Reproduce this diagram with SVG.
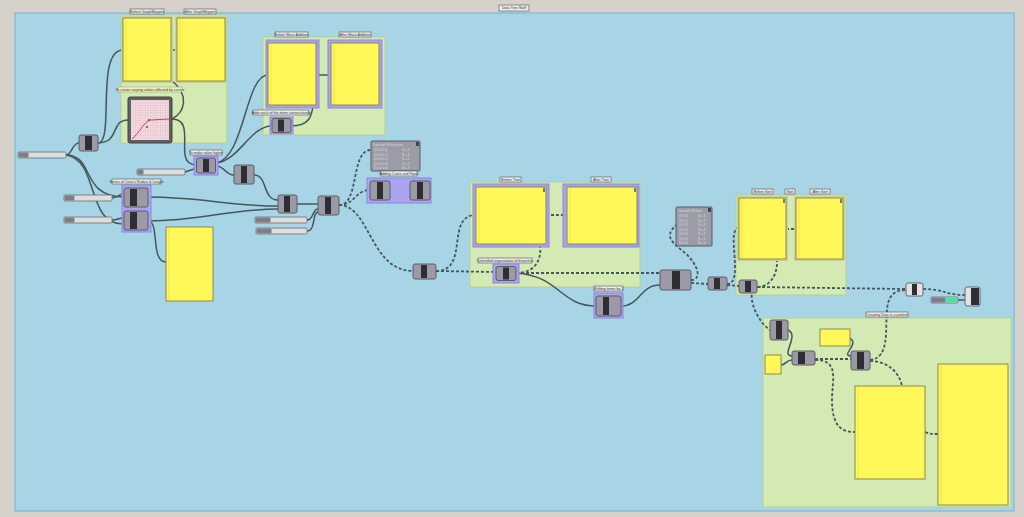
<svg xmlns="http://www.w3.org/2000/svg" width="1024" height="517" viewBox="0 0 1024 517">
<defs>
<style>
.bg{fill:#d6d2cb}
.blue{fill:#a7d5e6;stroke:#8cbdd0;stroke-width:1.5}
.grp{fill:#d4eab3;stroke:#b7cf98;stroke-width:1}
.pur{fill:#a9a3f0;stroke:#8d86de;stroke-width:1}
.pan{fill:#fff858;stroke:#8c8a4e;stroke-width:1}
.pl{stroke:#d8d040;stroke-width:0.5}
.cmp{fill:#9b9aa6;stroke:#5c5c66;stroke-width:1}
.bar{fill:#2e2e33}
.sl{fill:#dedede;stroke:#6c6c72;stroke-width:0.8}
.slh{fill:#7d7d88}
.lb{fill:#ececec;stroke:#555;stroke-width:0.6}
.lt{font-family:"Liberation Sans",Arial,sans-serif;font-size:3.6px;fill:#333;text-anchor:middle}
.dt{font-family:"Liberation Sans",Arial,sans-serif;font-size:3px;fill:#ddd}
.w{fill:none;stroke:#46565c;stroke-width:1.5}
.d{fill:none;stroke:#46565c;stroke-width:1.8;stroke-dasharray:3 2}
.dat{fill:#9c9ba8;stroke:#5a5a64;stroke-width:1}
</style>
<pattern id="grid" width="2.5" height="2.5" patternUnits="userSpaceOnUse">
<rect width="2.5" height="2.5" fill="#f3dde3"/>
<path d="M0 0V2.5M0 0H2.5" stroke="#d89aa8" stroke-width="0.4"/>
</pattern>
</defs>
<rect class="bg" x="0" y="0" width="1024" height="517"/>
<g id="canvas">
<rect class="blue" x="15" y="13" width="999" height="498"/>
<rect class="lb" x="499" y="5" width="30" height="6"/>
<text class="lt" x="514" y="9.3">Data Tree Stuff</text>
</g>
<g id="groups">
<rect class="grp" x="121" y="15" width="106" height="128"/>
<rect class="grp" x="263" y="37" width="122" height="98"/>
<rect class="grp" x="470" y="182" width="170" height="105"/>
<rect class="grp" x="736" y="195" width="110" height="100"/>
<rect class="grp" x="763" y="318" width="248" height="189"/>
</g>
<g id="connectors">
<path class="w" d="M66 155 C72 155,72 143,79 143"/>
<path class="w" d="M66 155 C95 155,80 197,124 197"/>
<path class="w" d="M66 155 C100 160,85 225,124 224"/>
<path class="w" d="M112 198 C118 198,118 194,124 194"/>
<path class="w" d="M112 220 C118 220,118 218,124 218"/>
<path class="w" d="M98 143 C120 143,110 120,128 120"/>
<path class="w" d="M98 143 C115 143,95 50,123 50"/>
<path class="w" d="M171 50 L177 50"/>
<path class="w" d="M171 80 C190 95,185 112,172 119"/>
<path class="w" d="M172 119 C190 119,183 140,185 155 C186 162,190 165,197 165"/>
<path class="w" d="M185 172 L197 168"/>
<path class="w" d="M216 163 C240 160,250 126,272 126"/>
<path class="w" d="M216 163 C245 158,245 75,268 75"/>
<path class="w" d="M216 166 C225 166,225 175,234 175"/>
<path class="w" d="M316 75 L331 75"/>
<path class="w" d="M291 126 C310 126,312 115,313 105"/>
<path class="w" d="M254 175 C268 175,262 200,278 200"/>
<path class="w" d="M148 197 C200 197,230 206,278 206"/>
<path class="w" d="M148 221 C200 221,230 209,278 209"/>
<path class="w" d="M148 221 C160 221,150 262,166 262"/>
<path class="w" d="M297 204 L318 204"/>
<path class="w" d="M307 220 C314 220,312 209,318 209"/>
<path class="w" d="M307 231 C316 231,312 212,318 212"/>
<path class="d" d="M339 205 C360 205,350 150,371 150"/>
<path class="d" d="M339 205 C355 205,355 190,370 190"/>
<path class="d" d="M390 191 L410 191"/>
<path class="d" d="M339 205 C370 205,370 271,413 271"/>
<path class="d" d="M436 271 C470 271,445 215,476 215"/>
<path class="d" d="M436 271 L496 272"/>
<path class="d" d="M546 215 C556 215,556 215,567 215"/>
<path class="d" d="M516 273 C535 273,542 260,540 245"/>
<path class="d" d="M516 273 L660 273"/>
<path class="w" d="M516 273 C560 276,560 306,596 306"/>
<path class="w" d="M621 306 C640 306,640 285,660 285"/>
<path class="d" d="M691 280 C700 280,700 270,690 258 C680 246,660 240,676 225"/>
<path class="d" d="M691 283 L708 284"/>
<path class="d" d="M727 284 C745 284,725 228,739 228"/>
<path class="d" d="M727 285 L739 286"/>
<path class="d" d="M786 229 L796 229"/>
<path class="d" d="M777 259 C778 275,770 287,757 287"/>
<path class="d" d="M757 287 L906 289"/>
<path class="d" d="M757 287 C745 290,755 320,770 330"/>
<path class="d" d="M923 289 C945 289,945 295,965 295"/>
<path class="w" d="M958 300 L965 300"/>
<path class="d" d="M870 360 C890 358,885 330,887 310 C888 295,895 290,906 290"/>
<path class="w" d="M788 330 C800 335,780 356,792 356"/>
<path class="w" d="M781 365 C786 365,786 360,792 360"/>
<path class="d" d="M815 359 L851 359"/>
<path class="w" d="M850 338 C860 345,840 355,851 356"/>
<path class="d" d="M815 360 C840 360,832 380,832 400 C832 430,845 432,855 432"/>
<path class="d" d="M870 361 C890 361,900 375,902 386"/>
<path class="d" d="M925 432 C930 434,932 434,938 434"/>
</g>
<g id="before-graphmapper">
<rect class="lb" x="130" y="9" width="34" height="5"/><text class="lt" x="147" y="12.8">Before GraphMapper</text>
<rect x="121" y="16" width="52" height="67" fill="#c9d29a"/>
<rect class="pan" x="123" y="18" width="48" height="63"/><path class="pl" d="M126 19V80"/>
</g>
<g id="after-graphmapper">
<rect class="lb" x="184" y="9" width="32" height="5"/><text class="lt" x="200" y="12.8">After GraphMapper</text>
<rect x="175" y="16" width="52" height="67" fill="#c9d29a"/>
<rect class="pan" x="177" y="18" width="48" height="63"/><path class="pl" d="M180 19V80"/>
</g>
<g id="graphmapper">
<rect x="118" y="87" width="64" height="5" fill="#eef0c0" stroke="#9a9a60" stroke-width="0.5"/><text class="lt" x="150" y="90.8">To create varying values affected by curves</text>
<rect x="128" y="97" width="44" height="46" rx="2" fill="#5f5f66" stroke="#444"/>
<rect x="131" y="100" width="38" height="40" fill="url(#grid)"/>
<path d="M132 139 C140 132,144 122,150 120 L169 119" fill="none" stroke="#c02020" stroke-width="0.8"/>
<circle cx="147" cy="127" r="1" fill="#555"/><circle cx="149" cy="120" r="1" fill="#555"/>
</g>
<g id="before-mass">
<rect class="lb" x="275" y="32" width="33" height="5"/><text class="lt" x="291.5" y="35.8">Before Mass Addition</text>
<rect class="pur" x="266" y="40" width="53" height="68"/>
<rect class="pan" x="268" y="43" width="48" height="62"/><path class="pl" d="M271 44V104"/>
</g>
<g id="after-mass">
<rect class="lb" x="339" y="32" width="32" height="5"/><text class="lt" x="355" y="35.8">After Mass Addition</text>
<rect class="pur" x="328" y="40" width="54" height="68"/>
<rect class="pan" x="331" y="43" width="48" height="62"/><path class="pl" d="M334 44V104"/>
</g>
<g id="mass-addition">
<rect class="lb" x="253" y="110" width="56" height="5"/><text class="lt" x="281" y="113.8">Adds each of the items consecutively</text>
<rect class="pur" x="270" y="117" width="23" height="17"/>
<rect class="cmp" x="272" y="118.5" width="19" height="14" rx="2"/><rect class="bar" x="278" y="119.5" width="6" height="12"/>
</g>
<g id="slider-1"><rect class="sl" x="18" y="152" width="48" height="6" rx="1"/><rect class="slh" x="18.5" y="152.5" width="10" height="5" rx="1"/></g>
<g id="comp-a"><rect class="cmp" x="79" y="135" width="19" height="16" rx="2"/><rect class="bar" x="85" y="136" width="7" height="14"/></g>
<g id="slider-2"><rect class="sl" x="137" y="169" width="48" height="6" rx="1"/><rect class="slh" x="137.5" y="169.5" width="6" height="5" rx="1"/></g>
<g id="make-higher">
<rect class="lb" x="190" y="150" width="32" height="5"/><text class="lt" x="206" y="153.8">To make value higher</text>
<rect class="pur" x="194" y="156" width="24" height="19"/>
<rect class="cmp" x="196.5" y="158" width="19" height="15" rx="2"/><rect class="bar" x="203" y="159" width="6" height="13"/>
</g>
<g id="comp-b"><rect class="cmp" x="234" y="165" width="20" height="19" rx="2"/><rect class="bar" x="241" y="166" width="6" height="17"/></g>
<g id="slider-3"><rect class="sl" x="64" y="195" width="48" height="6" rx="1"/><rect class="slh" x="64.5" y="195.5" width="10" height="5" rx="1"/></g>
<g id="slider-4"><rect class="sl" x="64" y="217" width="48" height="6" rx="1"/><rect class="slh" x="64.5" y="217.5" width="10" height="5" rx="1"/></g>
<g id="cone-series">
<rect class="lb" x="112" y="179" width="49" height="5"/><text class="lt" x="136.5" y="182.8">Series of Cone's Radius &amp; Length</text>
<rect class="pur" x="122" y="185" width="29" height="47"/>
<rect class="cmp" x="124" y="188" width="24" height="19" rx="2"/><rect class="bar" x="130" y="189" width="7" height="17"/>
<rect class="cmp" x="124" y="211" width="24" height="19" rx="2"/><rect class="bar" x="130" y="212" width="7" height="17"/>
</g>
<g id="panel-cone"><rect class="pan" x="166" y="227" width="47" height="74"/><path class="pl" d="M169 228V300"/></g>
<g id="comp-c"><rect class="cmp" x="278" y="195" width="19" height="18" rx="2"/><rect class="bar" x="284" y="196" width="6" height="16"/></g>
<g id="comp-d"><rect class="cmp" x="318" y="196" width="21" height="19" rx="2"/><rect class="bar" x="325" y="197" width="6" height="17"/></g>
<g id="slider-5"><rect class="sl" x="255" y="217" width="52" height="6" rx="1"/><rect class="slh" x="255.5" y="217.5" width="15" height="5" rx="1"/></g>
<g id="slider-6"><rect class="sl" x="256" y="228" width="51" height="6" rx="1"/><rect class="slh" x="256.5" y="228.5" width="15" height="5" rx="1"/></g>
<g id="data-99">
<rect class="dat" x="371" y="141" width="49" height="30" rx="1"/>
<rect x="416" y="142" width="3" height="4" fill="#444"/>
<text class="dt" x="373" y="146" fill="#eee">Data with 99 branches</text>
<text class="dt" x="374" y="151">{0;0;0;0;0}</text><text class="dt" x="402" y="151">N = 3</text>
<text class="dt" x="374" y="155.5">{0;0;0;0;1}</text><text class="dt" x="402" y="155.5">N = 3</text>
<text class="dt" x="374" y="160">{0;0;0;0;2}</text><text class="dt" x="402" y="160">N = 3</text>
<text class="dt" x="374" y="164.5">{0;0;0;0;3}</text><text class="dt" x="402" y="164.5">N = 3</text>
<text class="dt" x="374" y="169">{0;0;0;0;4}</text><text class="dt" x="402" y="169">N = 3</text>
</g>
<g id="curve-pipes">
<rect class="lb" x="381" y="171" width="36" height="5"/><text class="lt" x="399" y="174.8">Adding Curve and Pipes</text>
<rect class="pur" x="367" y="178" width="64" height="25"/>
<rect class="cmp" x="370" y="181" width="20" height="19" rx="2"/><rect class="bar" x="377" y="182" width="6" height="17"/>
<rect class="cmp" x="410" y="181" width="20" height="19" rx="2"/><rect class="bar" x="417" y="182" width="6" height="17"/>
</g>
<g id="comp-e"><rect class="cmp" x="413" y="264" width="23" height="15" rx="2"/><rect class="bar" x="421" y="265" width="6" height="13"/></g>
<g id="before-tree">
<rect class="lb" x="500" y="177" width="21" height="5"/><text class="lt" x="510.5" y="180.8">Before Tree</text>
<rect class="pur" x="473" y="184" width="76" height="63"/>
<rect class="pan" x="476" y="187" width="70" height="57"/><path class="pl" d="M479 188V243"/>
<rect x="543" y="188" width="2" height="4" fill="#777"/>
</g>
<g id="after-tree">
<rect class="lb" x="591" y="177" width="20" height="5"/><text class="lt" x="601" y="180.8">After Tree</text>
<rect class="pur" x="563" y="184" width="76" height="63"/>
<rect class="pan" x="567" y="187" width="70" height="57"/><path class="pl" d="M570 188V243"/>
<rect x="634" y="188" width="2" height="4" fill="#777"/>
</g>
<g id="controlled">
<rect class="lb" x="478" y="258" width="54" height="5"/><text class="lt" x="505" y="261.8">Controlled organisation of branches</text>
<rect class="pur" x="493" y="264" width="26" height="19"/>
<rect class="cmp" x="496" y="266.5" width="20" height="14" rx="2"/><rect class="bar" x="503" y="267.5" width="6" height="12"/>
</g>
<g id="shifting">
<rect class="lb" x="594" y="286" width="29" height="5"/><text class="lt" x="608.5" y="289.8">Shifting items by 1</text>
<rect class="pur" x="594" y="293" width="29" height="25"/>
<rect class="cmp" x="596" y="296" width="25" height="20" rx="2"/><rect class="bar" x="603" y="297" width="6" height="18"/>
</g>
<g id="comp-f"><rect class="cmp" x="660" y="270" width="31" height="20" rx="2"/><rect class="bar" x="672" y="271" width="8" height="18"/></g>
<g id="data-tree-2">
<rect class="dat" x="676" y="207" width="36" height="39" rx="1"/>
<rect x="708" y="208" width="3" height="4" fill="#444"/>
<text class="dt" x="678" y="212" fill="#eee">Data with 99 bran...</text>
<text class="dt" x="679" y="217">{0;0;0}</text><text class="dt" x="698" y="217">N = 3</text>
<text class="dt" x="679" y="221.5">{0;0;1}</text><text class="dt" x="698" y="221.5">N = 3</text>
<text class="dt" x="679" y="226">{0;0;2}</text><text class="dt" x="698" y="226">N = 3</text>
<text class="dt" x="679" y="230.5">{0;0;3}</text><text class="dt" x="698" y="230.5">N = 3</text>
<text class="dt" x="679" y="235">{0;0;4}</text><text class="dt" x="698" y="235">N = 3</text>
<text class="dt" x="679" y="239.5">{0;0;5}</text><text class="dt" x="698" y="239.5">N = 3</text>
<text class="dt" x="679" y="244">{0;0;6}</text><text class="dt" x="698" y="244">N = 3</text>
</g>
<g id="comp-g"><rect class="cmp" x="708" y="277" width="19" height="13" rx="2"/><rect class="bar" x="714" y="278" width="6" height="11"/></g>
<g id="before-sort">
<rect class="lb" x="752" y="189" width="21" height="5"/><text class="lt" x="762.5" y="192.8">Before Sort</text>
<rect x="737" y="196" width="51" height="65" fill="#c9d29a"/>
<rect class="pan" x="739" y="198" width="47" height="61"/><path class="pl" d="M742 199V258"/>
<rect x="783" y="199" width="2" height="4" fill="#777"/>
</g>
<g id="sort-label"><rect class="lb" x="785" y="189" width="10" height="5"/><text class="lt" x="790" y="192.8">Sort</text></g>
<g id="after-sort">
<rect class="lb" x="810" y="189" width="20" height="5"/><text class="lt" x="820" y="192.8">After Sort</text>
<rect x="794" y="196" width="51" height="65" fill="#c9d29a"/>
<rect class="pan" x="796" y="198" width="47" height="61"/><path class="pl" d="M799 199V258"/>
<rect x="840" y="199" width="2" height="4" fill="#777"/>
</g>
<g id="comp-h"><rect class="cmp" x="739" y="280" width="18" height="13" rx="2"/><rect class="bar" x="745" y="281" width="6" height="11"/></g>
<g id="comp-i"><rect x="906" y="283" width="17" height="13" rx="2" fill="#e2e2e6" stroke="#666"/><rect class="bar" x="912" y="284" width="5" height="11"/></g>
<g id="toggle"><rect class="sl" x="931" y="297" width="27" height="6" rx="1"/><rect class="slh" x="931.5" y="297.5" width="14" height="5"/><rect x="946" y="297.5" width="11.5" height="5" fill="#4fe0a0"/></g>
<g id="comp-j"><rect x="965" y="287" width="15" height="19" rx="2" fill="#e2e2e6" stroke="#666"/><rect class="bar" x="971" y="288" width="8" height="17"/></g>
<g id="pattern-group">
<rect class="lb" x="866" y="312" width="42" height="5"/><text class="lt" x="887" y="315.8">Creating Data in a pattern</text>
</g>
<g id="comp-k"><rect class="cmp" x="770" y="320" width="18" height="20" rx="2"/><rect class="bar" x="776" y="321" width="6" height="18"/></g>
<g id="comp-l"><rect class="cmp" x="792" y="351" width="23" height="14" rx="2"/><rect class="bar" x="798" y="352" width="7" height="12"/></g>
<g id="comp-m"><rect class="cmp" x="851" y="351" width="19" height="19" rx="2"/><rect class="bar" x="857" y="352" width="7" height="17"/></g>
<g id="panel-small-1"><rect class="pan" x="820" y="329" width="30" height="17"/></g>
<g id="panel-small-2"><rect class="pan" x="765" y="355" width="16" height="19"/></g>
<g id="panel-big-1"><rect class="pan" x="855" y="386" width="70" height="93"/><path class="pl" d="M858 387V478"/></g>
<g id="panel-big-2"><rect class="pan" x="938" y="364" width="70" height="141"/><path class="pl" d="M941 365V504"/></g>
</svg>
